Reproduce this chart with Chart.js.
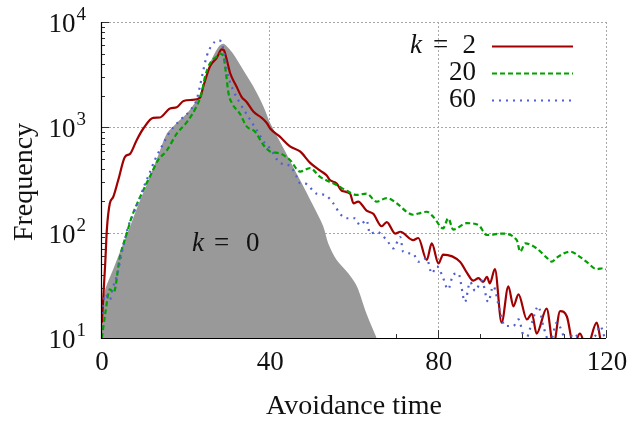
<!DOCTYPE html>
<html><head><meta charset="utf-8">
<script src="https://cdn.jsdelivr.net/npm/chart.js@4/dist/chart.umd.min.js"></script>
<style>html,body{margin:0;padding:0;background:#fff}canvas{display:block}</style>
</head><body>
<canvas id="c" width="642" height="422"></canvas>
<script>
// ---- data ----
const xTicks = [0, 40, 80, 120];
const xMinorTicks = [10, 20, 30, 50, 60, 70, 90, 100, 110];
const yTicks = [10, 100, 1000, 10000];
const yTickLabels = [["10","1"],["10","2"],["10","3"],["10","4"]];
const legendLabels = ["2", "20", "60"];

const k0X = [0, 0.3, 1, 3, 5, 7, 9, 11.2, 12.5, 14, 15.6, 18, 20.4, 22.7, 24.3, 25.9, 27.9, 29.1, 30.2, 31.4, 33.8, 36.2, 38.6, 40.2, 43.5, 47.3, 50.5, 52.8, 54, 56, 58.8, 60.8, 63.1, 65.5];
const k0Y = [10, 20, 29, 46, 74, 117, 190, 310, 420, 600, 870, 1100, 1350, 1820, 2440, 4050, 5800, 6200, 5700, 5000, 3500, 2440, 1580, 1100, 620, 316, 178, 115, 79, 55, 41, 31, 17, 10];

const k2X = [0.2, 1, 1.4, 2.1, 2.9, 4.1, 5.7, 6.9, 8.5, 10.1, 12.4, 14, 16.4, 18, 19.6, 21.6, 23.5, 24.3, 25.9, 27.5, 28.7, 29.2, 29.9, 30.7, 32.2, 33.4, 34.6, 36.2, 38.2, 39.4, 40.2, 42.5, 44.9, 47.3, 49.7, 52, 53.6, 54.4, 56, 57.2, 59.2, 60, 61.1, 63.1, 64.7, 66.7, 67.9, 69.9, 71.1, 74.2, 75.4, 77.4, 78.6, 80.2, 81.3, 85.3, 86.9, 88.5, 89.7, 90.8, 91.7, 92.4, 93.6, 95.2, 96.8, 98, 99.2, 101.2, 102.4, 103.5, 105.9, 107.5, 109.1, 110.7, 112.3, 113.8, 115.4, 117.8, 119, 120];
const k2Y = [14, 51, 108, 190, 218, 316, 525, 560, 760, 980, 1230, 1240, 1510, 1550, 1780, 1820, 1900, 2440, 3800, 4560, 5500, 5400, 4360, 3260, 2440, 1950, 1740, 1410, 1230, 1100, 975, 815, 660, 590, 460, 390, 350, 316, 293, 250, 234, 190, 197, 162, 151, 115, 126, 98, 102, 85, 89, 55, 79, 51, 62, 53, 42, 35, 37, 34, 38, 33, 45, 14, 31, 20, 26, 15, 17, 11, 19, 8.5, 18, 16, 8.5, 11, 8, 14, 8.5, 8];

const k20X = [0.2, 1, 2.1, 3, 4.5, 6.1, 7.3, 9.3, 11.2, 11.6, 13.6, 15.6, 18, 20.4, 22.7, 23.9, 24.7, 25.9, 27.5, 28.3, 29.1, 29.7, 30.3, 31.1, 33, 34.6, 36.6, 38.6, 40.2, 42.5, 44.9, 47.3, 49.7, 52, 56, 58.4, 60.8, 63.1, 65.5, 67.9, 70.3, 72.6, 74.2, 75.4, 77.4, 79, 81.3, 82.5, 83.7, 86.9, 89.7, 91.7, 95.2, 98.8, 99.6, 100.8, 103.5, 105.9, 107.1, 108.3, 111.5, 113.8, 115.6, 117.8, 119.4, 120];
const k20Y = [10, 17, 29, 27, 59, 98, 141, 218, 316, 340, 490, 600, 870, 1120, 1580, 2100, 3000, 4050, 4700, 5000, 4700, 3260, 2100, 1700, 1350, 1020, 910, 680, 590, 565, 490, 380, 410, 340, 283, 250, 228, 235, 197, 213, 190, 158, 148, 152, 158, 141, 110, 137, 107, 123, 118, 95, 98, 85, 66, 79, 71, 58, 53, 58, 66, 59, 52, 45, 46, 45];

const k60X = [0.2, 1, 2.1, 2.8, 3.7, 5.3, 6.5, 7.7, 9.3, 10.5, 11.2, 12.8, 14.8, 16.4, 18.8, 21.2, 22.7, 23.5, 24.3, 25.1, 26.3, 27.9, 28.7, 29.5, 30.3, 31.4, 33, 35, 37, 39, 40.2, 42.5, 44.9, 46.5, 47.3, 48.3, 51.3, 53.2, 55.2, 56.8, 58.4, 60.4, 61.5, 63.1, 63.9, 65.5, 67.9, 69.5, 71.1, 71.8, 74.2, 75.4, 77.4, 78.6, 79.8, 81, 82.5, 83.7, 84.9, 86.5, 87.7, 88.9, 90.5, 92, 93.2, 94.8, 96, 98, 99.2, 100.8, 102.4, 103.9, 105.1, 106.7, 108.3, 110.7, 112.5, 114.5, 117, 117.8, 118.6, 120];
const k60Y = [17, 26, 23, 30, 38, 74, 115, 151, 218, 293, 340, 490, 700, 910, 1170, 1450, 1820, 2440, 3460, 4700, 6000, 6700, 6300, 4360, 3000, 2260, 1700, 1260, 940, 700, 630, 460, 430, 340, 295, 295, 234, 228, 190, 151, 137, 137, 118, 132, 98, 102, 85, 71, 91, 66, 63, 53, 57, 41, 48, 40, 29, 40, 41, 22, 34, 28, 35, 22, 31, 18, 13, 13, 15, 9.5, 14, 20, 13, 9, 14, 9.5, 11, 8.5, 10, 11, 13, 9];

const toPts = (xs, ys) => xs.map((x, i) => ({x: x, y: ys[i]}));

const SERIF = '"Liberation Serif", "DejaVu Serif", serif';
const RED = '#a00000', GREEN = '#00a000', BLUE = '#5060d0', GRAY = '#999999';

const decor = {
  id: 'decor',
  beforeDatasetsDraw(chart) {
    const {ctx, chartArea: a, scales: {x, y}} = chart;
    ctx.save();
    ctx.strokeStyle = '#a8a8a8';
    ctx.lineWidth = 1;
    ctx.setLineDash([2, 2]);
    xTicks.slice(1).forEach(v => {
      const px = Math.round(x.getPixelForValue(v)) + 0.5;
      ctx.beginPath(); ctx.moveTo(px, a.top); ctx.lineTo(px, a.bottom); ctx.stroke();
    });
    yTicks.slice(1).forEach(v => {
      const py = Math.round(y.getPixelForValue(v)) + 0.5;
      ctx.beginPath(); ctx.moveTo(a.left, py); ctx.lineTo(a.right, py); ctx.stroke();
    });
    ctx.setLineDash([]);
    ctx.strokeStyle = '#333';
    ctx.lineWidth = 1;
    xTicks.forEach(v => {
      const px = Math.round(x.getPixelForValue(v)) + 0.5;
      ctx.beginPath(); ctx.moveTo(px, a.bottom); ctx.lineTo(px, a.bottom - 8); ctx.stroke();
    });
    xMinorTicks.forEach(v => {
      const px = Math.round(x.getPixelForValue(v)) + 0.5;
      ctx.beginPath(); ctx.moveTo(px, a.bottom); ctx.lineTo(px, a.bottom - 4); ctx.stroke();
    });
    yTicks.forEach((v, i) => {
      let py = Math.round(y.getPixelForValue(v)) + 0.5;
      ctx.beginPath(); ctx.moveTo(a.left, py); ctx.lineTo(a.left + 8, py); ctx.stroke();
      if (i < yTicks.length - 1) {
        for (let m = 2; m <= 9; m++) {
          py = Math.round(y.getPixelForValue(v * m)) + 0.5;
          ctx.beginPath(); ctx.moveTo(a.left, py); ctx.lineTo(a.left + 4, py); ctx.stroke();
        }
      }
    });
    ctx.restore();
  },
  afterDatasetsDraw(chart) {
    const {ctx, chartArea: a, scales: {x, y}} = chart;
    ctx.save();
    ctx.strokeStyle = '#000';
    ctx.lineWidth = 1.2;
    ctx.beginPath();
    ctx.moveTo(a.left + 0.5, a.top); ctx.lineTo(a.left + 0.5, a.bottom + 0.5); ctx.lineTo(a.right, a.bottom + 0.5);
    ctx.stroke();
    ctx.fillStyle = '#111';
    ctx.font = '27px ' + SERIF;
    ctx.textAlign = 'center';
    ctx.textBaseline = 'middle';
    xTicks.forEach(v => ctx.fillText(String(v), x.getPixelForValue(v) + 1, a.bottom + 25));
    yTicks.forEach((v, i) => {
      const py = y.getPixelForValue(v);
      const [base, ex] = yTickLabels[i];
      ctx.font = '19px ' + SERIF;
      ctx.textAlign = 'right';
      ctx.textBaseline = 'alphabetic';
      const ew = ctx.measureText(ex).width;
      ctx.fillText(ex, 86, py - 2);
      ctx.font = '27px ' + SERIF;
      ctx.fillText(base, 86 - ew - 1, py + 10);
    });
    ctx.textAlign = 'center';
    ctx.textBaseline = 'middle';
    ctx.font = '28px ' + SERIF;
    ctx.fillText('Avoidance time', 354, 407);
    ctx.save();
    ctx.translate(25, 182);
    ctx.rotate(-Math.PI / 2);
    ctx.fillText('Frequency', 0, 0);
    ctx.restore();
    ctx.textBaseline = 'middle';
    ctx.textAlign = 'left';
    ctx.font = 'italic 27px ' + SERIF;
    ctx.fillText('k', 192, 244);
    ctx.font = '27px ' + SERIF;
    ctx.fillText('=', 214, 244);
    ctx.fillText('0', 246, 244);
    const rows = [46, 73, 100];
    const colors = [RED, GREEN, BLUE];
    const dashes = [[], [5, 3], [2, 5]];
    rows.forEach((ry, i) => {
      ctx.textAlign = 'right';
      ctx.fillStyle = '#111';
      ctx.font = '27px ' + SERIF;
      ctx.fillText(legendLabels[i], 476, ry);
      if (i === 0) {
        ctx.textAlign = 'left';
        ctx.fillText('=', 433, ry);
        ctx.font = 'italic 27px ' + SERIF;
        ctx.fillText('k', 410, ry);
      }
      ctx.strokeStyle = colors[i];
      ctx.lineWidth = 2.2;
      ctx.setLineDash(dashes[i]);
      ctx.beginPath(); ctx.moveTo(492, ry + 0.5); ctx.lineTo(573, ry + 0.5); ctx.stroke();
    });
    ctx.restore();
  }
};

new Chart(document.getElementById('c'), {
  type: 'line',
  data: {
    datasets: [
      {label: 'k=0', data: toPts(k0X, k0Y), borderWidth: 0, borderColor: GRAY, backgroundColor: GRAY, fill: 'start', pointRadius: 0, tension: 0.3, order: 4},
      {label: 'k=2', data: toPts(k2X, k2Y), borderColor: RED, borderWidth: 2.2, fill: false, pointRadius: 0, cubicInterpolationMode: 'monotone', order: 3},
      {label: '20', data: toPts(k20X, k20Y), borderColor: GREEN, borderWidth: 2.2, borderDash: [5, 3], fill: false, pointRadius: 0, cubicInterpolationMode: 'monotone', order: 2},
      {label: '60', data: toPts(k60X, k60Y), borderColor: BLUE, borderWidth: 2.2, borderDash: [2, 5], fill: false, pointRadius: 0, cubicInterpolationMode: 'monotone', order: 1}
    ]
  },
  options: {
    responsive: false,
    animation: false,
    devicePixelRatio: 1,
    layout: {padding: {left: 101, right: 36, top: 22, bottom: 84}},
    plugins: {legend: {display: false}, tooltip: {enabled: false}},
    scales: {
      x: {type: 'linear', min: 0, max: 120, ticks: {display: false}, grid: {display: false}, border: {display: false},
          afterFit(s) { s.height = 0; }},
      y: {type: 'logarithmic', min: 10, max: 10000, ticks: {display: false}, grid: {display: false}, border: {display: false},
          afterFit(s) { s.width = 0; }}
    }
  },
  plugins: [decor]
});
</script>
</body></html>
